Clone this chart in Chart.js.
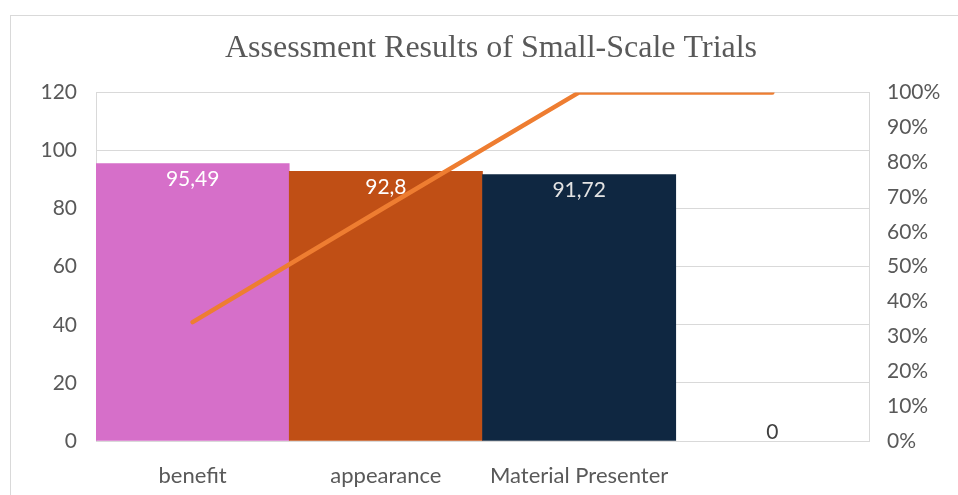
<!DOCTYPE html>
<html>
<head>
<meta charset="utf-8">
<script src="https://cdn.jsdelivr.net/npm/chart.js@4"></script>
<style>
  html, body { margin: 0; padding: 0; background: #fff; overflow: hidden; }
  #wrap { position: relative; width: 958px; height: 495px; }
  #frame { position: absolute; left: 10px; top: 15px; width: 1000px; height: 600px; border: 1px solid #d9d9d9; }
  canvas { position: absolute; left: 0; top: 0; }
</style>
</head>
<body>
<div id="wrap">
  <div id="frame"></div>
  <canvas id="chart" width="958" height="495"></canvas>
</div>
<script>
// chart data
const categories = ['benefit', 'appearance', 'Material Presenter', ''];
const scores = [95.49, 92.8, 91.72, 0];
const cumulativePct = [34.1, 67.2, 100, 100];
const barColors = ['#d66fc9', '#c04f15', '#0f2741', 'rgba(0,0,0,0)'];
const leftTicks = [0, 20, 40, 60, 80, 100, 120];

const gridColor = '#d9d9d9';
const textColor = '#595959';

// draws the value labels on the bars (inside end, comma decimals)
const barLabels = {
  id: 'barLabels',
  afterDatasetsDraw(chart) {
    const ctx = chart.ctx;
    const meta = chart.getDatasetMeta(1);
    ctx.save();
    ctx.font = '21px Lato';
    ctx.textAlign = 'center';
    ctx.textBaseline = 'middle';
    meta.data.forEach((bar, i) => {
      const txt = String(scores[i]).replace('.', ',');
      if (scores[i] > 0) {
        ctx.fillStyle = i === 2 ? '#e3e3e3' : '#ffffff';
        ctx.fillText(txt, bar.x, bar.y + 16);
      } else {
        ctx.fillStyle = '#404040';
        ctx.fillText(txt, bar.x, bar.y - 9);
      }
    });
    ctx.restore();
  }
};

new Chart(document.getElementById('chart'), {
  data: {
    labels: categories,
    datasets: [
      {
        type: 'line',
        data: cumulativePct,
        yAxisID: 'y1',
        borderColor: '#ee7d31',
        borderWidth: 4.5,
        borderCapStyle: 'round',
        borderJoinStyle: 'round',
        pointRadius: 0,
        tension: 0,
        order: 0
      },
      {
        type: 'bar',
        data: scores,
        yAxisID: 'y',
        backgroundColor: barColors,
        borderWidth: 0,
        categoryPercentage: 1,
        barPercentage: 1,
        order: 1
      }
    ]
  },
  options: {
    responsive: false,
    animation: false,
    layout: { padding: { left: 24, right: 0, top: 0, bottom: 0 } },
    plugins: {
      legend: { display: false },
      tooltip: { enabled: false },
      title: {
        display: true,
        text: 'Assessment Results of Small-Scale Trials',
        color: textColor,
        font: { family: '"Liberation Serif", serif', size: 32, weight: 'normal' },
        padding: { top: 29, bottom: 25 }
      }
    },
    scales: {
      x: {
        grid: { display: false },
        border: { display: true, color: gridColor },
        ticks: { color: textColor, font: { family: 'Lato', size: 22 }, padding: 14, maxRotation: 0 },
        afterFit(s) { s.height = 54; }
      },
      y: {
        position: 'left',
        min: 0,
        max: 120,
        afterBuildTicks(s) { s.ticks = leftTicks.map(v => ({ value: v })); },
        grid: { color: gridColor, drawTicks: false },
        border: { display: true, color: gridColor },
        ticks: { color: textColor, font: { family: 'Lato', size: 21 }, padding: 19 },
        afterFit(s) { s.width = 72; }
      },
      y1: {
        position: 'right',
        min: 0,
        max: 100,
        grid: { display: false, drawTicks: false },
        border: { display: true, color: gridColor },
        ticks: {
          stepSize: 10,
          color: textColor,
          font: { family: 'Lato', size: 21 },
          padding: 18,
          callback: v => v + '%'
        },
        afterFit(s) { s.width = 89; }
      }
    }
  },
  plugins: [barLabels]
});
</script>
</body>
</html>
